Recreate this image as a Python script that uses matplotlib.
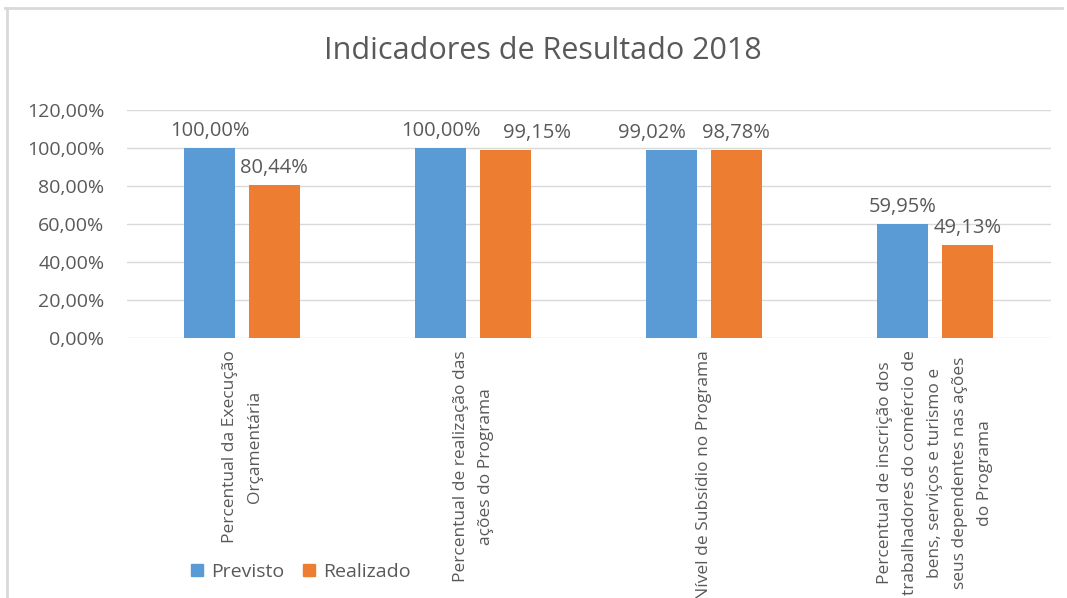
import matplotlib.pyplot as plt
from matplotlib.lines import Line2D
from matplotlib.patches import Patch
import numpy as np

categorias = [
    "Percentual da Execução\nOrçamentária",
    "Percentual de realização das\nações do Programa",
    "Nível de Subsídio no Programa",
    "Percentual de inscrição dos\ntrabalhadores do comércio de\nbens, serviços e turismo e\nseus dependentes nas ações\ndo Programa",
]
previsto = [100.00, 100.00, 99.02, 59.95]
realizado = [80.44, 99.15, 98.78, 49.13]
series = ["Previsto", "Realizado"]
cores = ["#5B9BD5", "#ED7D31"]

# deslocamento horizontal (pt) dos rótulos que foram afastados no original
dx_previsto = [0, 0, -14, 0]
dx_realizado = [0, 23, 0, 0]

texto = "#595959"
plt.rcParams["font.family"] = ["Open Sans", "DejaVu Sans"]


def pct(v):
    return f"{v:.2f}%".replace(".", ",")


fig = plt.figure(figsize=(10.67, 5.98), dpi=100)
ax = fig.add_axes([0.1186, 0.4348, 0.866, 0.3813])

x = np.arange(len(categorias))
w = 0.22
off = 0.14
b1 = ax.bar(x - off, previsto, w, color=cores[0], zorder=3)
b2 = ax.bar(x + off, realizado, w, color=cores[1], zorder=3)
for barras, vals, dxs in ((b1, previsto, dx_previsto),
                          (b2, realizado, dx_realizado)):
    for b, v, dx in zip(barras, vals, dxs):
        ax.annotate(pct(v), (b.get_x() + b.get_width() / 2, v),
                    xytext=(dx, 5), textcoords="offset points",
                    ha="center", va="bottom", fontsize=14.5, color=texto)

ax.set_xlim(-0.5, len(categorias) - 0.5)
ax.set_ylim(0, 120)
ax.set_yticks(np.arange(0, 121, 20))
ax.set_yticklabels([pct(v) for v in np.arange(0, 121, 20)])
ax.set_xticks(x)
ax.set_xticklabels(categorias, rotation=90, multialignment="center",
                   fontsize=12.5, color=texto, linespacing=1.75)
ax.tick_params(axis="y", length=0, labelsize=14, labelcolor=texto, pad=16)
ax.tick_params(axis="x", length=0, pad=9)
ax.grid(axis="y", color="#D9D9D9", linewidth=1, zorder=0)
for s in ax.spines.values():
    s.set_visible(False)

fig.suptitle("Indicadores de Resultado 2018", x=0.509, y=0.94,
             fontsize=22, color=texto)

handles = [Patch(color=c) for c in cores]
fig.legend(handles, series, loc="center left", bbox_to_anchor=(0.1625, 0.044),
           ncol=2, frameon=False, fontsize=14, labelcolor=texto,
           handlelength=0.6, handleheight=0.6, handletextpad=0.45,
           columnspacing=0.95)

# moldura cinza (topo e esquerda)
fig.add_artist(Line2D([0.005, 0.995], [0.987, 0.987], color="#D9D9D9",
                      linewidth=2, transform=fig.transFigure))
fig.add_artist(Line2D([0.007, 0.007], [0.0, 0.987], color="#D9D9D9",
                      linewidth=2, transform=fig.transFigure))

fig.savefig("out.png", dpi=100)
